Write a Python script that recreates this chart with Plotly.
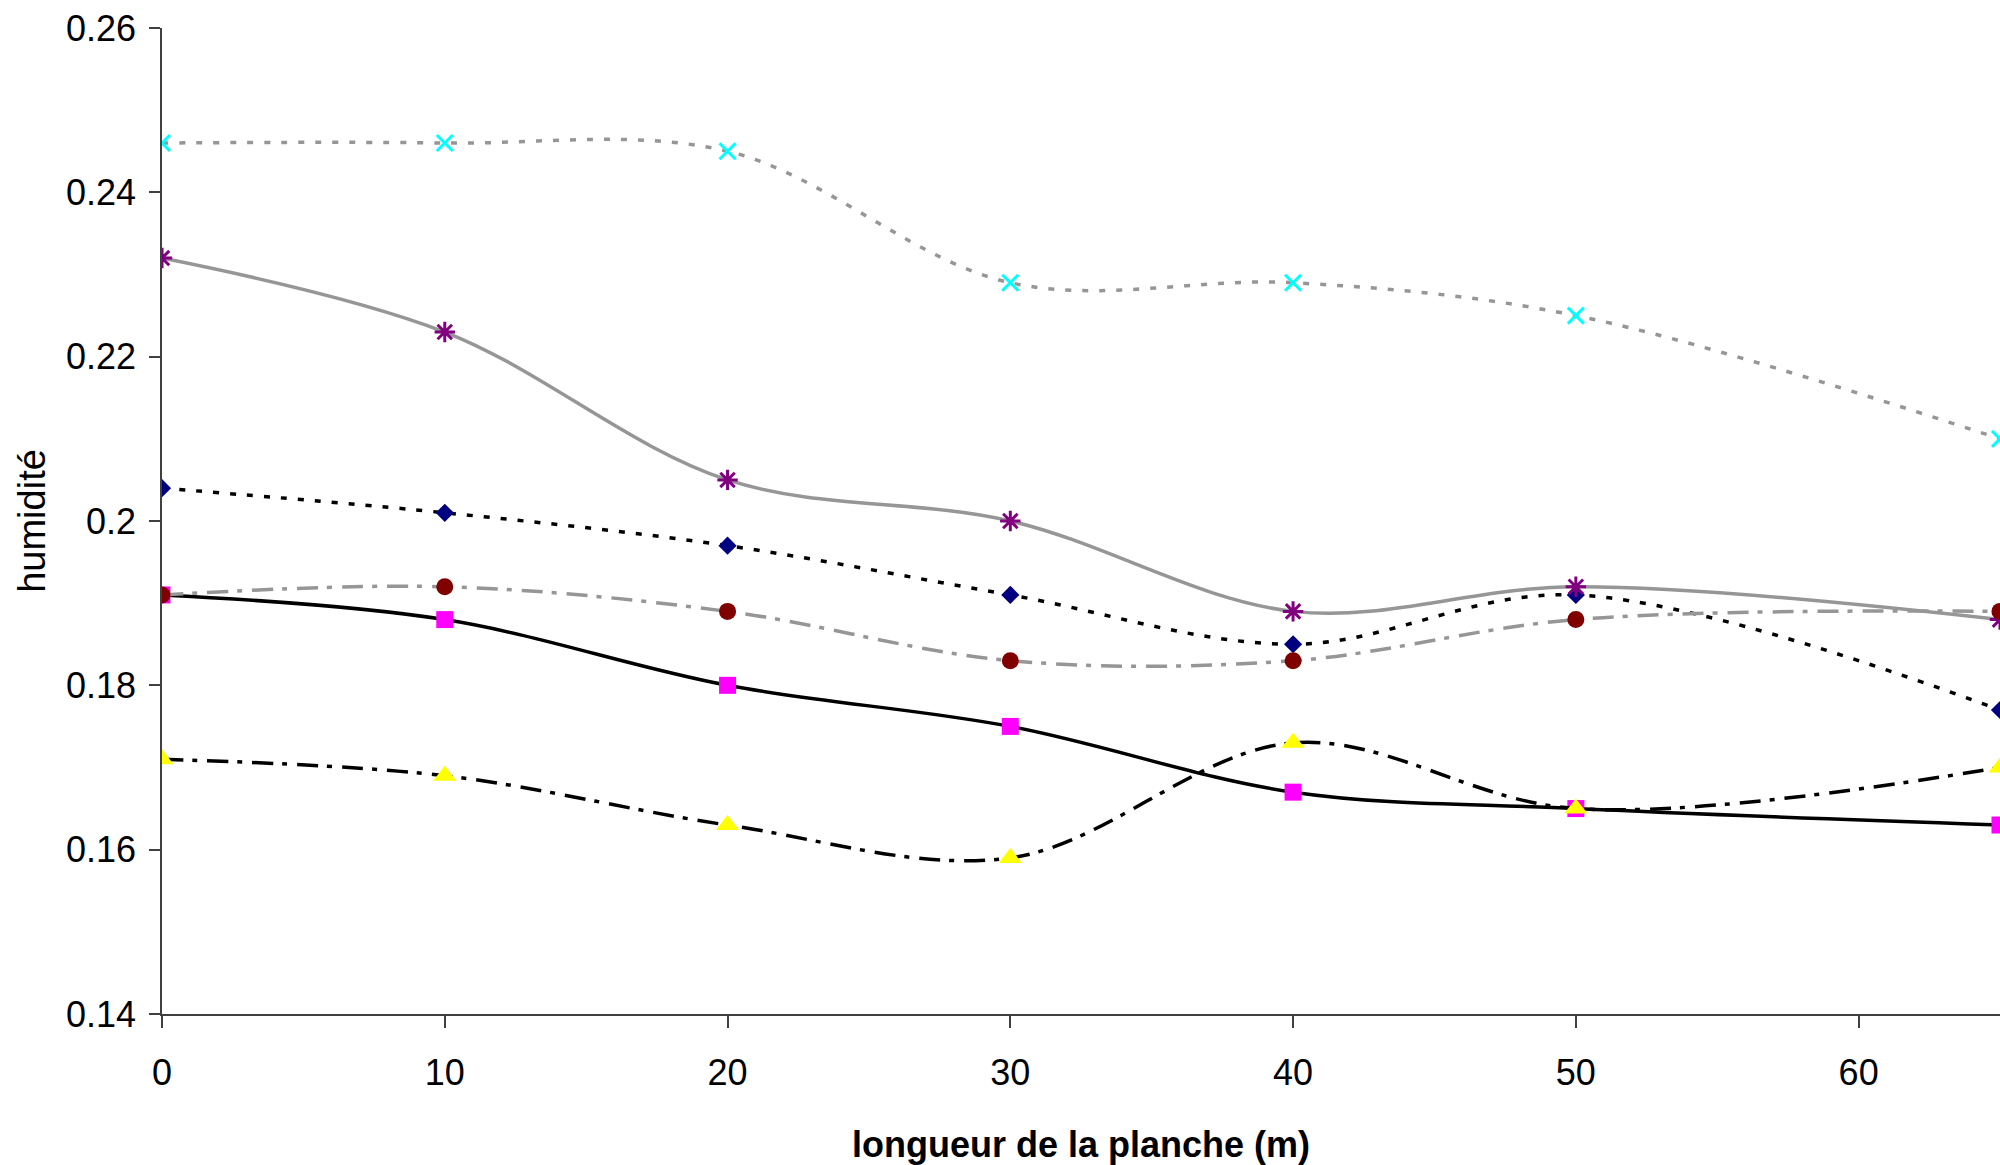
import plotly.graph_objects as go

# Data
x_positions = [0, 10, 20, 30, 40, 50, 65]
serie_losange = [0.204, 0.201, 0.197, 0.191, 0.185, 0.191, 0.177]   # navy diamond, black dotted
serie_carre = [0.191, 0.188, 0.180, 0.175, 0.167, 0.165, 0.163]     # magenta square, black solid
serie_triangle = [0.171, 0.169, 0.163, 0.159, 0.173, 0.165, 0.170]  # yellow triangle, black dash-dot
serie_croix = [0.246, 0.246, 0.245, 0.229, 0.229, 0.225, 0.210]     # cyan x, grey dotted
serie_etoile = [0.232, 0.223, 0.205, 0.200, 0.189, 0.192, 0.188]    # purple asterisk, grey solid
serie_cercle = [0.191, 0.192, 0.189, 0.183, 0.183, 0.188, 0.189]    # maroon circle, grey dash-dot

x_ticks = [0, 10, 20, 30, 40, 50, 60]
y_ticks = [0.14, 0.16, 0.18, 0.20, 0.22, 0.24, 0.26]

GREY = "#969696"
DOT = "6px,11px"
DASHDOT = "21px,9px,5px,10px"

series = [
    dict(y=serie_losange, line=dict(color="black", width=3.5, dash=DOT),
         marker=dict(symbol="diamond", size=14, color="#000080")),
    dict(y=serie_carre, line=dict(color="black", width=3.5, dash="solid"),
         marker=dict(symbol="square", size=17, color="#FF00FF")),
    dict(y=serie_triangle, line=dict(color="black", width=3.5, dash=DASHDOT),
         marker=dict(symbol="triangle-up", size=20, color="#FFFF00")),
    dict(y=serie_croix, line=dict(color=GREY, width=3.5, dash=DOT),
         marker=dict(symbol="x-thin-open", size=16, color="#00FFFF",
                     line=dict(color="#00FFFF", width=3))),
    dict(y=serie_etoile, line=dict(color=GREY, width=3.5, dash="solid"),
         marker=dict(symbol="asterisk-open", size=17, color="#800080",
                     line=dict(color="#800080", width=3))),
    dict(y=serie_cercle, line=dict(color=GREY, width=3.5, dash=DASHDOT),
         marker=dict(symbol="circle", size=17, color="#800000")),
]

fig = go.Figure()
for s in series:
    fig.add_trace(go.Scatter(
        x=x_positions, y=s["y"], mode="lines+markers",
        line=dict(shape="spline", smoothing=1, **s["line"]),
        marker=s["marker"], showlegend=False,
    ))

FONT = "Liberation Sans, Arial, sans-serif"

fig.update_layout(
    width=2000, height=1165,
    margin=dict(l=162, r=0, t=28, b=151),
    paper_bgcolor="white", plot_bgcolor="white",
    font=dict(family=FONT, size=36, color="black"),
)
fig.update_xaxes(
    range=[0, 65], tickvals=x_ticks, showgrid=False, zeroline=False,
    showline=True, linecolor="#404040", linewidth=1.5,
    ticks="outside", ticklen=12, tickcolor="#404040", tickwidth=1.5,
    ticklabelstandoff=14,
    tickfont=dict(size=36),
    title=dict(text="<b>longueur de la planche (m)</b>", font=dict(size=36), standoff=40),
)
fig.update_yaxes(
    range=[0.14, 0.26], tickvals=y_ticks, showgrid=False, zeroline=False,
    showline=True, linecolor="#404040", linewidth=1.5,
    ticks="outside", ticklen=11, tickcolor="#404040", tickwidth=1.5,
    ticklabelstandoff=6,
    tickfont=dict(size=36),
    title=dict(text="humidité", font=dict(size=38), standoff=9),
)

fig.write_html("out.html")
